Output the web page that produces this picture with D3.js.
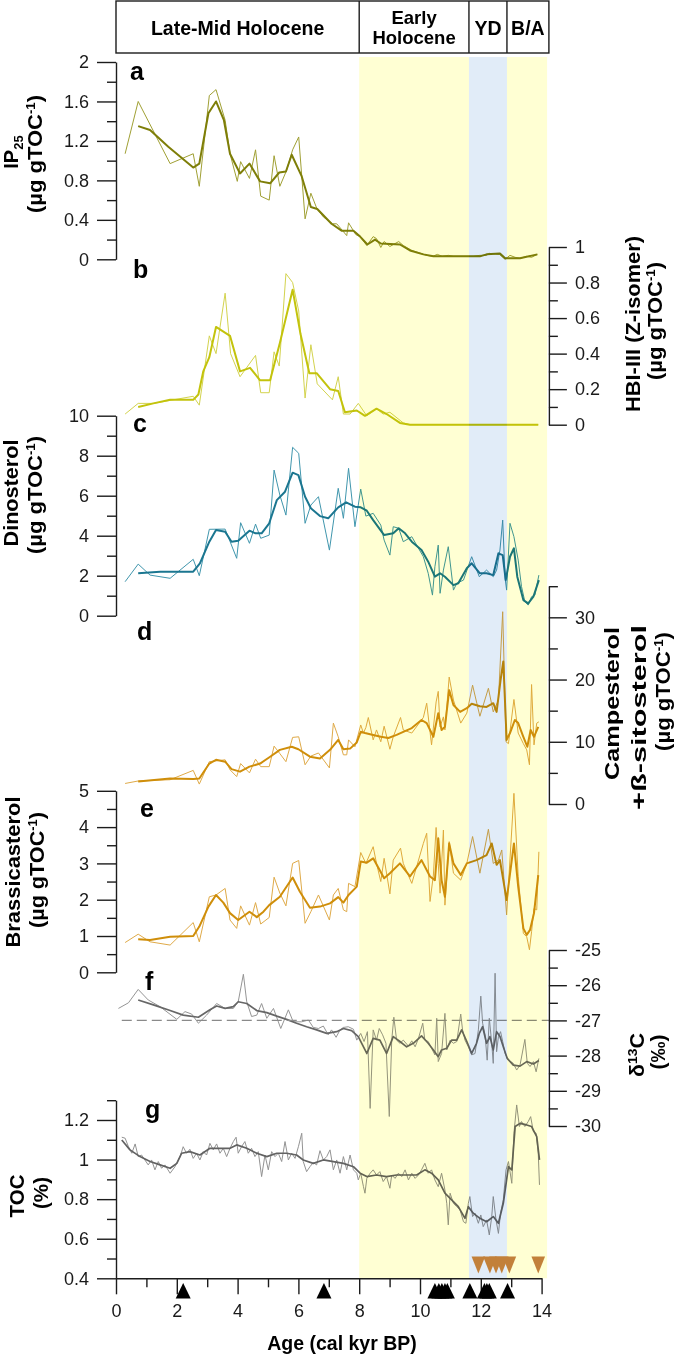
<!DOCTYPE html>
<html><head><meta charset="utf-8">
<script src="https://cdn.jsdelivr.net/npm/d3@7"></script>
<style>
body{margin:0;background:#fff}
svg{display:block}
text{font-family:"Liberation Sans",Arial,Helvetica,sans-serif}
</style>
</head><body>
<svg id="chart" width="685" height="1356"></svg>
<script>
// ---------------- DATA ----------------
const ageTicks = [0,2,4,6,8,10,12,14];
const ageMinor = [1,3,5,7,9,11,13];
const periodNames = [["Late-Mid Holocene"],["Early","Holocene"],["YD"],["B/A"]];
const periodBounds = [0, 8, 11.61, 12.86, 14.24];
const yellowBand = [8, 14.18];
const blueBand = [11.61, 12.86];

// a) IP25 (µg gTOC-1)
const ip25Raw = [[0.30,1.07],[0.73,1.60],[1.78,0.97],[2.54,1.07],[2.74,0.74],[3.07,1.66],[3.29,1.72],[3.59,1.41],[3.75,1.07],[3.99,0.79],[4.10,0.99],[4.39,0.82],[4.59,1.11],[4.76,0.64],[5.04,0.60],[5.20,1.05],[5.39,0.74],[5.61,0.90],[5.81,1.11],[6.01,1.24],[6.22,0.41],[6.41,0.67],[6.60,0.52],[6.82,0.43],[7.12,0.36],[7.26,0.36],[7.40,0.31],[7.59,0.24],[7.65,0.37],[7.89,0.25],[8.03,0.23],[8.25,0.14],[8.46,0.23],[8.57,0.21],[8.71,0.12],[8.82,0.18],[9.01,0.13],[9.30,0.18],[9.45,0.14],[9.73,0.09],[10.22,0.04],[10.42,0.03],[10.57,0.05],[10.73,0.03],[10.93,0.04],[11.10,0.03],[11.43,0.03],[11.75,0.03],[11.97,0.04],[12.19,0.04],[12.28,0.06],[12.61,0.05],[12.80,0.00],[12.96,0.04],[13.13,0.02],[13.29,0.01],[13.51,0.03],[13.67,0.02],[13.86,0.05]];
const ip25Smooth = [[0.73,1.35],[1.12,1.31],[1.72,1.14],[2.54,0.93],[2.74,0.97],[3.04,1.48],[3.29,1.60],[3.55,1.41],[3.75,1.07],[4.08,0.87],[4.39,0.97],[4.74,0.79],[5.07,0.77],[5.37,0.88],[5.59,0.89],[5.78,1.06],[6.11,0.84],[6.41,0.53],[6.62,0.51],[7.09,0.36],[7.42,0.29],[7.81,0.29],[8.03,0.23],[8.27,0.15],[8.52,0.20],[8.71,0.16],[9.34,0.15],[9.67,0.09],[10.11,0.05],[10.44,0.03],[10.77,0.03],[11.43,0.03],[11.97,0.03],[12.19,0.05],[12.63,0.06],[12.80,0.01],[13.29,0.01],[13.86,0.05]];

// b) HBI-III (Z-isomer)
const hbiRaw = [[0.30,0.06],[0.73,0.12],[1.23,0.12],[2.54,0.16],[2.74,0.11],[3.07,0.50],[3.29,0.40],[3.59,0.74],[3.77,0.40],[4.08,0.27],[4.59,0.39],[4.76,0.18],[5.04,0.18],[5.20,0.41],[5.37,0.33],[5.59,0.85],[5.81,0.80],[6.01,0.64],[6.22,0.15],[6.41,0.45],[6.62,0.23],[7.12,0.14],[7.31,0.27],[7.48,0.06],[7.70,0.06],[7.97,0.12],[8.25,0.05],[8.57,0.09],[8.79,0.06],[9.01,0.07],[9.45,0.01],[9.67,0],[13.89,0]];
const hbiSmooth = [[0.73,0.10],[1.23,0.12],[1.78,0.14],[2.54,0.14],[2.71,0.17],[2.87,0.30],[3.07,0.38],[3.29,0.55],[3.75,0.50],[4.08,0.30],[4.41,0.32],[4.74,0.25],[5.07,0.25],[5.39,0.46],[5.81,0.76],[6.07,0.51],[6.36,0.29],[6.60,0.29],[7.04,0.20],[7.31,0.19],[7.53,0.07],[7.92,0.08],[8.19,0.05],[8.57,0.09],[8.90,0.06],[9.34,0.01],[9.67,0],[13.89,0]];

// c) Dinosterol
const dinoRaw = [[0.30,1.70],[0.73,2.58],[1.12,2.03],[1.78,1.87],[2.54,2.82],[2.74,2.00],[3.07,4.32],[3.59,4.33],[3.97,2.87],[4.10,4.65],[4.39,3.62],[4.59,4.58],[4.76,3.87],[5.04,4.03],[5.20,7.28],[5.39,6.03],[5.59,5.03],[5.81,8.42],[6.01,8.12],[6.22,4.62],[6.41,5.53],[6.66,5.95],[7.02,3.28],[7.31,6.37],[7.48,4.87],[7.65,7.37],[7.86,4.45],[8.05,6.33],[8.22,4.98],[8.46,5.12],[8.71,4.53],[8.82,3.78],[9.01,3.03],[9.12,4.45],[9.30,4.37],[9.45,3.70],[9.73,3.95],[10.11,2.95],[10.27,2.12],[10.41,1.03],[10.49,2.45],[10.60,3.53],[10.66,1.12],[10.77,2.28],[10.93,3.45],[11.10,1.28],[11.21,1.62],[11.43,1.78],[11.70,2.95],[11.95,1.95],[12.19,2.28],[12.41,1.95],[12.52,2.28],[12.63,3.28],[12.72,4.78],[12.80,1.87],[12.85,1.28],[12.96,4.62],[13.09,3.95],[13.23,2.78],[13.34,1.45],[13.45,0.70],[13.56,0.53],[13.67,0.95],[13.78,1.03],[13.91,2.03]];
const dinoSmooth = [[0.73,2.12],[1.45,2.20],[2.54,2.20],[2.76,2.62],[3.07,3.70],[3.29,4.28],[3.59,4.20],[3.80,3.70],[4.02,3.75],[4.39,4.25],[4.59,4.12],[4.79,4.12],[5.04,4.62],[5.29,5.78],[5.56,6.20],[5.81,7.15],[6.00,7.03],[6.22,5.95],[6.41,5.37],[6.71,4.98],[6.98,4.87],[7.31,5.42],[7.57,5.67],[7.86,5.45],[8.05,5.42],[8.25,5.25],[8.46,4.78],[8.82,4.03],[9.12,4.12],[9.30,4.37],[9.51,4.12],[9.73,3.70],[10.05,3.28],[10.27,2.70],[10.49,1.95],[10.66,2.12],[10.82,1.95],[11.10,1.53],[11.26,1.62],[11.54,2.37],[11.70,2.62],[11.97,2.12],[12.19,2.12],[12.41,2.03],[12.58,3.12],[12.72,3.03],[12.82,1.78],[12.96,2.95],[13.09,3.37],[13.20,1.95],[13.40,0.78],[13.56,0.62],[13.73,0.95],[13.91,1.78]];

// d) Campesterol + ß-sitosterol
const campRaw = [[0.30,3.3],[0.73,3.7],[1.78,3.9],[2.54,5.4],[2.74,3.2],[3.07,6.8],[3.59,7.1],[3.75,5.5],[3.97,4.4],[4.10,6.5],[4.39,5.0],[4.59,7.2],[4.76,6.0],[5.04,6.0],[5.20,9.3],[5.39,8.1],[5.59,6.8],[5.81,10.7],[6.01,10.8],[6.22,6.3],[6.41,7.7],[6.66,8.2],[7.02,5.8],[7.15,13.0],[7.31,10.8],[7.48,7.9],[7.59,7.9],[7.65,10.3],[7.86,9.2],[8.05,12.7],[8.14,11.4],[8.22,12.3],[8.30,13.9],[8.46,10.3],[8.57,11.9],[8.71,10.0],[8.82,12.5],[9.01,8.8],[9.12,10.8],[9.36,13.9],[9.45,11.9],[9.73,11.4],[10.11,13.9],[10.22,16.2],[10.38,9.5],[10.53,16.4],[10.60,18.1],[10.66,12.4],[10.77,14.0],[10.82,11.9],[10.96,20.4],[11.10,16.7],[11.34,13.0],[11.54,14.6],[11.73,19.1],[11.97,14.1],[12.25,18.6],[12.41,14.8],[12.58,16.7],[12.72,30.9],[12.83,10.0],[12.91,9.7],[13.09,16.8],[13.23,11.4],[13.40,9.7],[13.51,8.7],[13.60,6.3],[13.67,19.2],[13.75,9.5],[13.84,13.0],[13.91,13.2]];
const campSmooth = [[0.73,3.6],[1.78,4.1],[2.54,4.0],[2.74,4.1],[3.07,6.5],[3.29,7.1],[3.59,6.8],[3.80,5.6],[4.08,5.2],[4.39,6.0],[4.74,6.5],[5.07,7.6],[5.39,8.7],[5.78,9.2],[6.00,8.8],[6.38,7.6],[6.71,7.3],[7.04,8.7],[7.31,10.3],[7.48,8.8],[7.70,8.9],[7.92,9.9],[8.05,11.6],[8.19,11.4],[8.46,11.1],[8.71,10.8],[8.96,10.6],[9.23,11.1],[9.45,11.6],[9.73,12.2],[10.05,13.5],[10.22,13.0],[10.44,10.8],[10.60,14.6],[10.71,11.9],[10.82,12.4],[10.96,18.3],[11.10,15.9],[11.32,14.8],[11.54,15.4],[11.70,16.1],[11.97,15.7],[12.19,15.6],[12.41,16.2],[12.52,14.8],[12.65,19.9],[12.74,22.9],[12.85,10.3],[12.96,11.4],[13.12,13.5],[13.23,13.0],[13.40,10.8],[13.53,9.2],[13.64,11.9],[13.75,10.8],[13.89,12.4]];

// e) Brassicasterol
const brasRaw = [[0.30,0.82],[0.73,1.05],[1.12,0.84],[1.78,0.75],[2.54,1.37],[2.74,0.84],[3.07,2.08],[3.29,2.13],[3.59,2.31],[3.75,1.44],[3.97,1.21],[4.10,1.83],[4.39,1.30],[4.59,1.92],[4.76,1.33],[5.04,1.51],[5.20,2.62],[5.39,2.18],[5.59,1.83],[5.81,3.00],[6.01,3.08],[6.22,1.35],[6.41,1.67],[6.66,2.13],[7.02,1.44],[7.15,2.13],[7.31,2.31],[7.48,1.72],[7.59,1.67],[7.65,2.45],[7.86,2.36],[8.05,3.30],[8.22,3.00],[8.46,3.46],[8.57,3.00],[8.71,2.50],[8.82,3.14],[9.01,2.16],[9.12,3.09],[9.36,3.42],[9.45,3.00],[9.73,2.45],[10.11,3.55],[10.22,3.83],[10.33,1.95],[10.44,2.68],[10.53,3.99],[10.60,3.00],[10.66,2.18],[10.77,3.92],[10.82,1.85],[10.96,3.60],[11.10,2.73],[11.34,2.54],[11.54,3.00],[11.73,3.74],[11.97,2.73],[12.25,3.94],[12.41,3.00],[12.58,3.09],[12.69,3.37],[12.85,1.58],[13.09,4.93],[13.23,2.64],[13.40,1.07],[13.51,0.98],[13.60,0.62],[13.67,1.12],[13.75,1.76],[13.84,1.72],[13.91,3.32]];
const brasSmooth = [[0.73,0.91],[1.12,0.89],[1.78,0.98],[2.54,1.00],[2.74,1.26],[3.04,1.81],[3.29,2.13],[3.53,1.92],[3.75,1.63],[4.02,1.44],[4.39,1.67],[4.63,1.52],[4.85,1.67],[5.04,1.85],[5.39,2.08],[5.81,2.61],[6.05,2.22],[6.38,1.78],[6.71,1.81],[7.04,1.90],[7.31,2.07],[7.48,1.92],[7.65,2.13],[7.92,2.36],[8.05,3.05],[8.25,3.02],[8.46,3.14],[8.82,2.59],[9.01,2.73],[9.34,3.00],[9.67,2.64],[10.05,3.09],[10.33,2.64],[10.49,2.54],[10.60,3.69],[10.71,2.54],[10.82,2.08],[10.96,3.55],[11.10,3.00],[11.34,2.68],[11.54,3.00],[11.86,3.09],[12.19,3.23],[12.36,3.55],[12.52,2.96],[12.63,3.09],[12.85,1.99],[13.09,3.55],[13.23,2.36],[13.40,1.21],[13.51,1.03],[13.62,1.17],[13.75,1.63],[13.89,2.68]];

// f) d13C (‰)
const d13cRaw = [[0.08,-26.66],[0.41,-26.50],[0.73,-26.12],[1.06,-26.42],[1.45,-26.61],[2.00,-26.97],[2.27,-26.75],[2.49,-26.82],[2.71,-27.08],[2.98,-26.85],[3.31,-26.52],[3.59,-26.66],[3.86,-26.66],[4.02,-26.47],[4.19,-25.69],[4.30,-26.47],[4.46,-26.89],[4.63,-26.85],[4.79,-26.52],[4.96,-26.94],[5.18,-26.66],[5.42,-27.23],[5.67,-26.70],[5.83,-27.04],[6.11,-27.04],[6.33,-26.99],[6.49,-27.20],[6.66,-27.23],[6.82,-27.16],[6.98,-27.41],[7.09,-27.27],[7.24,-27.48],[7.37,-27.27],[7.48,-27.20],[7.64,-27.18],[7.81,-27.25],[7.92,-27.56],[8.05,-27.37],[8.16,-27.60],[8.27,-27.32],[8.36,-29.50],[8.46,-27.27],[8.57,-27.56],[8.66,-27.23],[8.77,-27.41],[8.88,-27.65],[8.99,-29.73],[9.07,-27.56],[9.14,-26.91],[9.23,-27.56],[9.34,-27.65],[9.45,-27.56],[9.62,-27.73],[9.73,-27.58],[9.84,-27.75],[9.95,-27.51],[10.09,-27.08],[10.16,-27.56],[10.27,-27.60],[10.38,-27.79],[10.49,-27.98],[10.55,-26.94],[10.60,-28.17],[10.71,-27.94],[10.82,-26.80],[10.88,-27.84],[10.99,-27.56],[11.10,-27.65],[11.21,-27.60],[11.34,-26.82],[11.40,-27.27],[11.48,-27.56],[11.59,-27.75],[11.70,-27.98],[11.81,-27.94],[11.92,-27.27],[12.00,-26.31],[12.06,-27.08],[12.14,-27.41],[12.21,-28.13],[12.28,-26.94],[12.36,-27.65],[12.41,-28.22],[12.47,-25.66],[12.52,-27.89],[12.58,-27.46],[12.65,-27.32],[12.72,-27.60],[12.80,-27.94],[12.91,-28.13],[13.07,-28.22],[13.18,-28.41],[13.29,-28.27],[13.45,-27.54],[13.53,-28.22],[13.62,-28.31],[13.73,-28.17],[13.82,-28.46],[13.91,-28.08]];
const d13cSmooth = [[0.73,-26.42],[1.23,-26.56],[1.78,-26.72],[2.21,-26.85],[2.71,-26.91],[3.09,-26.70],[3.31,-26.59],[3.59,-26.66],[3.86,-26.61],[4.02,-26.47],[4.30,-26.52],[4.63,-26.72],[4.96,-26.78],[5.29,-26.88],[5.61,-26.97],[5.94,-27.08],[6.27,-27.18],[6.60,-27.27],[6.93,-27.37],[7.26,-27.32],[7.48,-27.23],[7.75,-27.29],[7.97,-27.46],[8.25,-27.94],[8.46,-27.51],[8.68,-27.56],[8.90,-27.94],[9.12,-27.46],[9.34,-27.60],[9.56,-27.75],[9.78,-27.65],[10.05,-27.44],[10.27,-27.65],[10.44,-27.84],[10.60,-28.03],[10.71,-27.84],[10.88,-27.79],[11.04,-27.56],[11.21,-27.56],[11.37,-27.27],[11.54,-27.60],[11.70,-27.94],[11.86,-27.65],[11.95,-27.37],[12.06,-27.18],[12.19,-27.65],[12.30,-27.46],[12.41,-27.84],[12.52,-27.32],[12.63,-27.46],[12.74,-27.75],[12.87,-28.08],[13.07,-28.27],[13.29,-28.30],[13.51,-28.17],[13.73,-28.24],[13.91,-28.14]];
const d13cReference = -27;

// g) TOC (%)
const tocRaw = [[0.19,1.113],[0.30,1.108],[0.41,1.065],[0.52,1.032],[0.63,1.079],[0.73,1.015],[0.84,1.023],[0.95,0.998],[1.06,0.973],[1.17,0.998],[1.28,0.948],[1.39,0.990],[1.50,0.956],[1.61,0.973],[1.78,0.931],[1.94,0.964],[2.11,1.015],[2.21,1.065],[2.32,1.032],[2.43,1.052],[2.54,1.006],[2.65,1.032],[2.76,0.998],[2.87,1.040],[2.98,1.023],[3.09,1.082],[3.20,1.049],[3.31,1.079],[3.42,1.032],[3.53,1.057],[3.64,1.015],[3.75,1.057],[3.86,1.091],[3.95,1.113],[4.02,1.032],[4.13,1.065],[4.24,1.091],[4.35,1.032],[4.46,1.057],[4.57,1.015],[4.68,1.040],[4.79,0.914],[4.90,1.023],[5.01,0.948],[5.12,1.040],[5.23,1.015],[5.34,1.032],[5.45,0.990],[5.56,1.091],[5.67,0.998],[5.78,1.032],[5.89,1.006],[6.00,1.065],[6.11,1.133],[6.16,0.990],[6.27,0.939],[6.38,0.964],[6.49,0.985],[6.60,0.973],[6.71,1.045],[6.82,0.998],[6.93,1.015],[7.04,1.049],[7.15,0.948],[7.26,0.998],[7.37,0.931],[7.48,1.015],[7.59,0.948],[7.70,1.023],[7.81,0.948],[7.92,0.931],[7.97,0.897],[8.05,0.931],[8.14,0.863],[8.19,0.830],[8.25,0.905],[8.36,0.931],[8.46,0.948],[8.57,0.922],[8.68,0.939],[8.79,0.889],[8.90,0.914],[9.01,0.855],[9.07,0.922],[9.18,0.905],[9.29,0.931],[9.40,0.914],[9.51,0.948],[9.62,0.897],[9.73,0.931],[9.84,0.905],[9.95,0.922],[10.05,0.948],[10.16,0.981],[10.27,0.931],[10.38,0.948],[10.49,0.897],[10.60,0.863],[10.71,0.931],[10.82,0.846],[10.88,0.779],[10.93,0.670],[10.99,0.830],[11.10,0.779],[11.21,0.762],[11.32,0.745],[11.43,0.686],[11.51,0.678],[11.59,0.779],[11.64,0.813],[11.73,0.712],[11.81,0.729],[11.92,0.678],[12.00,0.720],[12.08,0.661],[12.19,0.695],[12.28,0.619],[12.36,0.712],[12.41,0.813],[12.50,0.695],[12.58,0.627],[12.65,0.729],[12.74,0.796],[12.83,0.948],[12.91,0.990],[13.02,0.880],[13.09,1.133],[13.18,1.276],[13.27,1.167],[13.34,1.192],[13.45,1.167],[13.56,1.192],[13.64,1.217],[13.73,1.141],[13.82,1.133],[13.89,1.032],[13.93,0.872]];
const tocSmooth = [[0.19,1.099],[0.46,1.049],[0.79,1.015],[1.12,0.990],[1.45,0.973],[1.78,0.956],[2.00,0.981],[2.16,1.032],[2.43,1.040],[2.76,1.023],[3.09,1.057],[3.42,1.057],[3.75,1.057],[3.97,1.074],[4.30,1.057],[4.63,1.032],[4.96,1.015],[5.29,1.032],[5.61,1.032],[5.94,1.023],[6.16,0.998],[6.49,0.981],[6.82,0.998],[7.15,0.990],[7.48,0.981],[7.81,0.964],[8.03,0.931],[8.25,0.914],[8.57,0.922],[8.90,0.914],[9.23,0.922],[9.56,0.922],[9.89,0.922],[10.16,0.948],[10.38,0.931],[10.60,0.897],[10.82,0.830],[11.04,0.796],[11.26,0.762],[11.48,0.703],[11.59,0.762],[11.75,0.729],[11.97,0.703],[12.19,0.686],[12.41,0.712],[12.58,0.678],[12.74,0.779],[12.91,0.964],[13.02,0.948],[13.13,1.167],[13.29,1.183],[13.51,1.175],[13.67,1.167],[13.84,1.116],[13.93,0.998]];

// dating markers
const radiocarbonAges = [2.21, 6.84, 10.49, 10.62, 10.72, 10.82, 10.9, 11.64, 12.12, 12.2, 12.28, 12.88];
const tephraAges = [11.92, 12.30, 12.50, 12.69, 12.94, 13.89];

// ticks
const ticksA = [0,0.4,0.8,1.2,1.6,2], minorA = [0.2,0.6,1.0,1.4,1.8];
const ticksB = [0,0.2,0.4,0.6,0.8,1], minorB = [0.1,0.3,0.5,0.7,0.9];
const ticksC = [0,2,4,6,8,10], minorC = [1,3,5,7,9];
const ticksD = [0,10,20,30], minorD = [5,15,25,35];
const ticksE = [0,1,2,3,4,5], minorE = [0.5,1.5,2.5,3.5,4.5];
const ticksF = [-30,-29,-28,-27,-26,-25], minorF = [-29.5,-28.5,-27.5,-26.5,-25.5];
const ticksG = [0.4,0.6,0.8,1,1.2], minorG = [0.5,0.7,0.9,1.1,1.3];

// ---------------- DRAWING ----------------
const svg = d3.select("#chart");
const AX = "#1c1c1c";
const x = d3.scaleLinear().domain([0,14]).range([116,541.6]);
const rightX = x(14.24);

const panels = [
  {letter:"a", raw:ip25Raw, smooth:ip25Smooth, domain:[0,2], range:[259.3,62], side:"left", ticks:ticksA, minor:minorA, thin:"#a0a034", thick:"#7e7e08", lp:[130,80]},
  {letter:"b", raw:hbiRaw, smooth:hbiSmooth, domain:[0,1], range:[424.7,247], side:"right", ticks:ticksB, minor:minorB, thin:"#d3d34e", thick:"#c3c30c", lp:[133,278]},
  {letter:"c", raw:dinoRaw, smooth:dinoSmooth, domain:[0,10], range:[615.7,415.7], side:"left", ticks:ticksC, minor:minorC, thin:"#4096ad", thick:"#1b7690", lp:[133,432]},
  {letter:"d", raw:campRaw, smooth:campSmooth, domain:[0,35], range:[804,586.2], side:"right", ticks:ticksD, minor:minorD, thin:"#dfaa48", thick:"#cf8e0a", lp:[137,640]},
  {letter:"e", raw:brasRaw, smooth:brasSmooth, domain:[0,5], range:[972.3,790.8], side:"left", ticks:ticksE, minor:minorE, thin:"#dfaa48", thick:"#cf8e0a", lp:[140,817]},
  {letter:"f", raw:d13cRaw, smooth:d13cSmooth, domain:[-30,-25], range:[1126,950], side:"right", ticks:ticksF, minor:minorF, thin:"#959595", thick:"#676767", lp:[145,990], thickW:1.7},
  {letter:"g", raw:tocRaw, smooth:tocSmooth, domain:[0.4,1.3], range:[1278.3,1100.2], side:"left", ticks:ticksG, minor:minorG, thin:"#939393", thick:"#626262", lp:[145,1118], thickW:1.7}
];

const gLines = svg.append("g");
panels.forEach(p => {
  p.y = d3.scaleLinear().domain(p.domain).range(p.range);
  const line = d3.line().x(d => x(d[0])).y(d => p.y(d[1]));
  gLines.append("path").attr("d", line(p.raw)).attr("fill","none")
    .attr("stroke", p.thin).attr("stroke-width", 1).attr("stroke-linejoin","round");
  gLines.append("path").attr("d", line(p.smooth)).attr("fill","none")
    .attr("stroke", p.thick).attr("stroke-width", p.thickW || 2).attr("stroke-linejoin","round");
});
// dashed reference in f
const pf = panels[5];
gLines.append("line").attr("x1", x(0.19)).attr("x2", rightX)
  .attr("y1", pf.y(d13cReference)).attr("y2", pf.y(d13cReference))
  .attr("stroke","#8a8a8a").attr("stroke-width",1.3).attr("stroke-dasharray","10,5");

// shading overlay (multiply) : yellow split around the blue band
const shadeTop = 57, shadeBot = 1278.3;
const shades = [
  {from: yellowBand[0], to: blueBand[0], color: "#ffffd3"},
  {from: blueBand[0], to: blueBand[1], color: "#e1ecf8"},
  {from: blueBand[1], to: yellowBand[1], color: "#ffffd3"}
];
const gShade = svg.append("g");
shades.forEach(s => {
  gShade.append("rect").attr("x", x(s.from)).attr("width", x(s.to) - x(s.from))
    .attr("y", shadeTop).attr("height", shadeBot - shadeTop).attr("fill", s.color)
    .style("mix-blend-mode","multiply");
});

function styleAxis(g, fs) {
  g.selectAll("path.domain").attr("stroke", AX).attr("stroke-width", 1.4);
  g.selectAll(".tick line").attr("stroke", AX).attr("stroke-width", 1.4);
  g.selectAll(".tick text").attr("fill", "#1a1a1a").style("font-size", (fs||18) + "px")
    .style("font-family", '"Liberation Sans", Arial, sans-serif');
}

panels.forEach(p => {
  const isLeft = p.side === "left";
  const ax = (isLeft ? d3.axisLeft(p.y) : d3.axisRight(p.y))
    .tickValues(p.ticks).tickSize(isLeft ? 19 : 18).tickSizeOuter(0).tickPadding(8)
    .tickFormat(d => String(d));
  const g = svg.append("g").attr("transform", `translate(${isLeft ? x(0) : rightX},0)`).call(ax);
  styleAxis(g);
  const mx = (isLeft ? d3.axisLeft(p.y) : d3.axisRight(p.y))
    .tickValues(p.minor).tickSize(9).tickSizeOuter(0).tickFormat("");
  const gm = svg.append("g").attr("transform", `translate(${isLeft ? x(0) : rightX},0)`).call(mx);
  styleAxis(gm);
  gm.select("path.domain").remove();
  svg.append("text").attr("x", p.lp[0]).attr("y", p.lp[1]).text(p.letter)
    .style("font-size","25px").style("font-weight","bold").attr("fill","#000");
});

// x axis
const gx = svg.append("g").attr("transform", `translate(0,${panels[6].range[0]})`)
  .call(d3.axisBottom(x).tickValues(ageTicks).tickSize(16).tickSizeOuter(0).tickPadding(10).tickFormat(d => String(d)));
styleAxis(gx);
const gxm = svg.append("g").attr("transform", `translate(0,${panels[6].range[0]})`)
  .call(d3.axisBottom(x).tickValues(ageMinor).tickSize(9).tickSizeOuter(0).tickFormat(""));
styleAxis(gxm);
gxm.select("path.domain").remove();
svg.append("text").attr("x", 342).attr("y", 1350).attr("text-anchor","middle")
  .style("font-size","19.5px").style("font-weight","bold").text("Age (cal kyr BP)");

// markers
const tri = d3.line();
radiocarbonAges.forEach(a => {
  const cx = x(a);
  svg.append("path").attr("d", tri([[cx-7.5,1298.5],[cx+7.5,1298.5],[cx,1283]]) + "Z").attr("fill","#000");
});
tephraAges.forEach(a => {
  const cx = x(a);
  svg.append("path").attr("d", tri([[cx-6.8,1256.5],[cx+6.8,1256.5],[cx,1273.5]]) + "Z").attr("fill","#c2803a");
});

// header
const gh = svg.append("g");
gh.append("rect").attr("x", x(periodBounds[0])).attr("y", 1)
  .attr("width", x(periodBounds[4]) - x(periodBounds[0])).attr("height", 52)
  .attr("fill","none").attr("stroke", AX).attr("stroke-width", 1.4);
for (let i = 1; i < periodBounds.length - 1; i++) {
  gh.append("line").attr("x1", x(periodBounds[i])).attr("x2", x(periodBounds[i]))
    .attr("y1", 1).attr("y2", 53).attr("stroke", AX).attr("stroke-width", 1.4);
}
periodNames.forEach((lines, i) => {
  const cx = (x(periodBounds[i]) + x(periodBounds[i+1])) / 2;
  const baseY = lines.length === 1 ? [34.5] : [23.5, 43.5];
  const fs = lines.length === 1 ? 19.5 : 18.5;
  lines.forEach((t, j) => {
    gh.append("text").attr("x", cx).attr("y", baseY[j]).attr("text-anchor","middle")
      .style("font-size", fs + "px").style("font-weight","bold").text(t);
  });
});

// axis titles (rotated -90)
function vTitle(xb, yc, anchor, len, build) {
  const t = svg.append("text").attr("transform", `translate(${xb},${yc}) rotate(-90)`)
    .attr("text-anchor", anchor).style("font-size","20px").style("font-weight","bold").attr("fill","#000");
  build(t);
  if (len) t.attr("textLength", len).attr("lengthAdjust","spacingAndGlyphs");
}
function unitTOC(t) {
  t.append("tspan").text("(µg gTOC");
  t.append("tspan").attr("dy", -7).style("font-size","12px").text("-1");
  t.append("tspan").attr("dy", 7).text(")");
}
vTitle(17.5, 152, "middle", null, t => { t.append("tspan").text("IP"); t.append("tspan").attr("dy",5).style("font-size","13px").text("25"); });
vTitle(42, 154, "middle", 118, unitTOC);
vTitle(640, 324, "middle", 176, t => t.text("HBI-III (Z-isomer)"));
vTitle(662, 321, "middle", 118, unitTOC);
vTitle(17.5, 493, "middle", 107, t => t.text("Dinosterol"));
vTitle(42, 495, "middle", 118, unitTOC);
vTitle(619, 627, "end", 153, t => t.text("Campesterol"));
vTitle(646, 625, "end", 185, t => t.text("+ß-sitosterol"));
vTitle(670, 632, "end", 119, unitTOC);
vTitle(20, 872, "middle", 151, t => t.text("Brassicasterol"));
vTitle(44, 870, "middle", 116, unitTOC);
vTitle(644, 1055, "middle", 44, t => { t.append("tspan").text("δ"); t.append("tspan").attr("dy",-7).style("font-size","13px").text("13"); t.append("tspan").attr("dy",7).text("C"); });
vTitle(665, 1052, "middle", 35, t => t.text("(‰)"));
vTitle(24, 1196, "middle", 43, t => t.text("TOC"));
vTitle(48, 1193, "middle", 32, t => t.text("(%)"));
</script>
</body></html>
